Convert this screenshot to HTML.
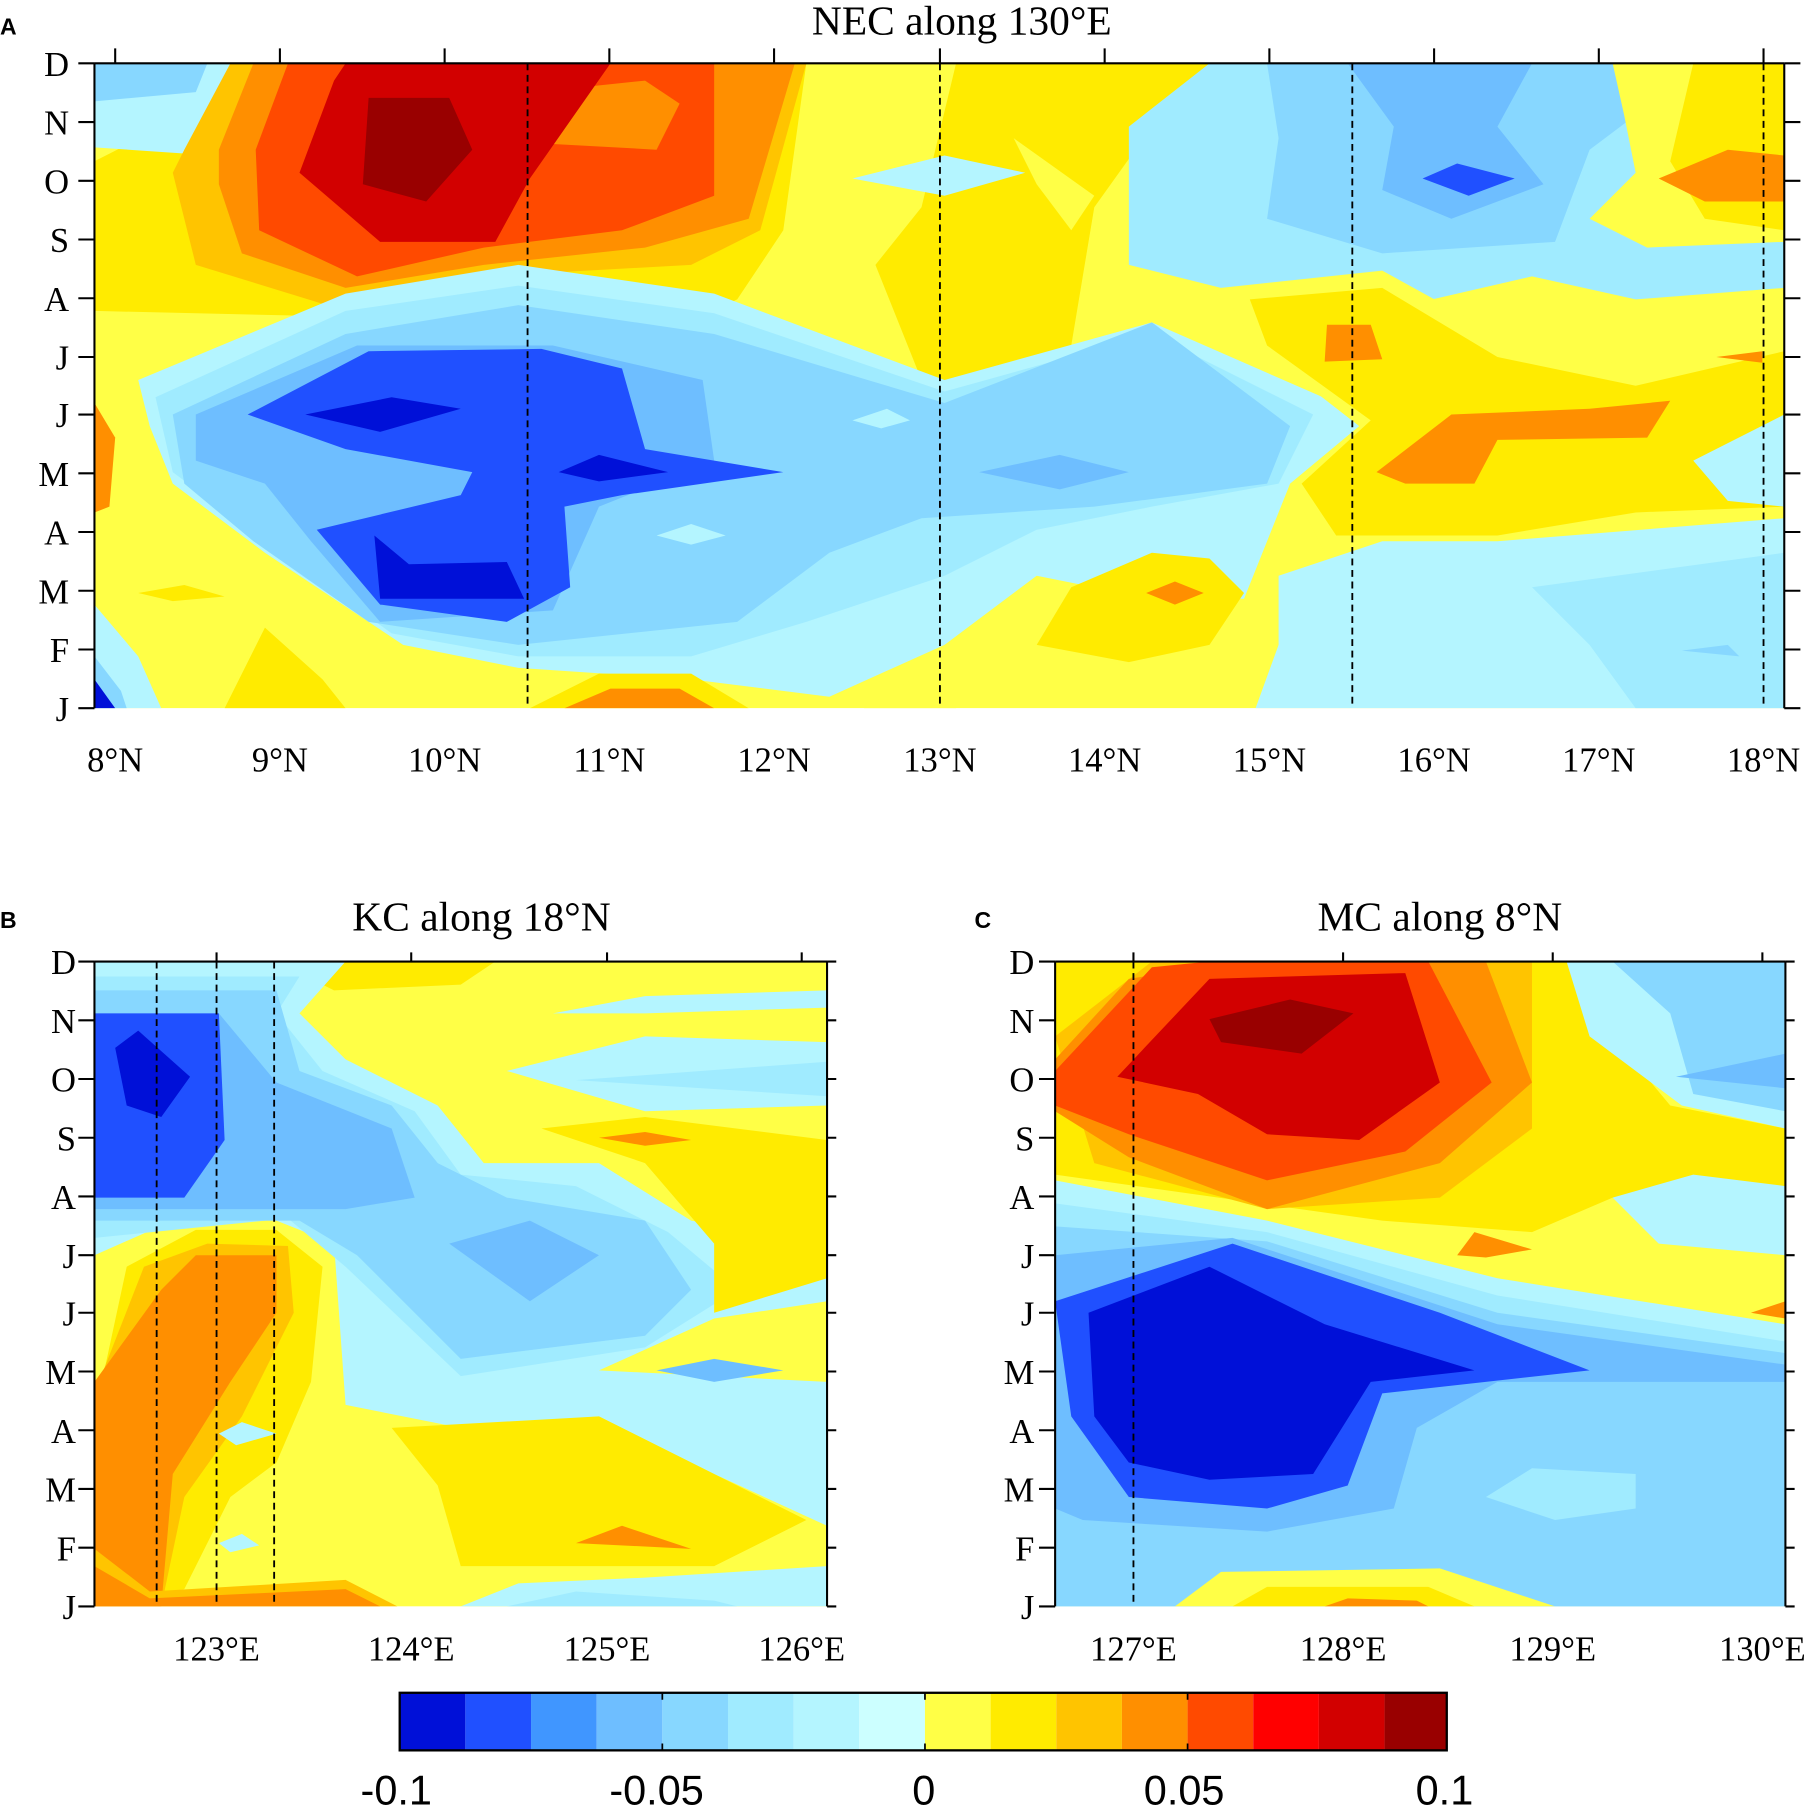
<!DOCTYPE html>
<html><head><meta charset="utf-8"><style>html,body{margin:0;padding:0;background:#fff}svg{display:block}</style></head><body>
<svg width="1805" height="1816" viewBox="0 0 1567 1577" preserveAspectRatio="none" xmlns="http://www.w3.org/2000/svg">
<defs>
<clipPath id="ca"><rect x="82" y="55" width="1467" height="560"/></clipPath>
<clipPath id="cb"><rect x="82" y="835" width="636" height="560"/></clipPath>
<clipPath id="cc"><rect x="916" y="835" width="634" height="560"/></clipPath>
</defs>
<rect width="1567" height="1577" fill="#fff"/>
<!-- Panel A -->
<g clip-path="url(#ca)">
<rect x="82" y="55" width="1467" height="560" fill="#FFFF46"/>
<path fill="#FFEB00" d="M82,140 L250,55 L700,55 L680,200 L640,260 L600,280 L450,250 L300,275 L82,270 Z"/>
<path fill="#FFEB00" d="M830,55 L1050,55 L1000,110 L950,180 L930,300 L880,350 L800,330 L760,230 L800,180 Z"/>
<path fill="#FFFF46" d="M880,120 L950,170 L930,200 L900,160 Z"/>
<path fill="#B4F5FF" d="M82,55 L235,55 L225,95 L185,135 L82,128 Z"/>
<path fill="#87D7FF" d="M82,55 L180,55 L170,80 L82,88 Z"/>
<path fill="#FFC400" d="M160,130 L200,55 L700,55 L660,200 L600,230 L420,240 L300,270 L170,230 L150,150 Z"/>
<path fill="#FF8F00" d="M190,130 L220,55 L690,55 L650,190 L560,215 L420,230 L300,250 L210,220 L190,160 Z"/>
<path fill="#FF4A00" d="M222,130 L250,55 L620,55 L620,170 L540,200 L420,215 L310,240 L225,200 Z"/>
<path fill="#FF8F00" d="M465,80 L560,70 L590,90 L570,130 L480,125 Z"/>
<path fill="#D20000" d="M260,150 L290,70 L300,55 L530,55 L460,155 L430,210 L330,210 Z"/>
<path fill="#990000" d="M320,85 L390,85 L410,130 L370,175 L315,160 Z"/>
<path fill="#B4F5FF" d="M120,330 L300,255 L450,230 L620,255 L820,330 L1000,280 L1160,350 L1190,380 L1120,420 L1100,470 L1080,520 L1000,520 L900,500 L820,560 L720,605 L600,590 L450,580 L350,560 L230,480 L150,420 L130,370 Z"/>
<path fill="#A0EBFF" d="M135,345 L300,270 L450,248 L620,272 L820,340 L1000,290 L1140,360 L1110,420 L1000,440 L900,460 L820,500 L700,540 L600,570 L450,570 L340,550 L230,470 L150,410 Z"/>
<path fill="#87D7FF" d="M150,360 L300,290 L450,265 L620,290 L820,350 L1000,280 L1120,370 L1100,420 L950,440 L800,450 L720,480 L640,540 L450,560 L320,540 L220,470 L160,420 Z"/>
<path fill="#6EBEFF" d="M170,360 L310,300 L480,300 L610,330 L620,400 L520,440 L480,530 L330,540 L270,470 L230,420 L170,400 Z"/>
<path fill="#6EBEFF" d="M850,410 L920,395 L980,410 L920,425 Z"/>
<path fill="#B4F5FF" d="M570,465 L600,455 L630,465 L600,473 Z M740,365 L770,355 L790,365 L765,372 Z"/>
<path fill="#2050FF" d="M215,360 L320,305 L470,303 L540,320 L560,390 L680,410 L540,430 L490,440 L495,510 L440,540 L330,525 L275,460 L400,430 L410,410 L300,390 Z"/>
<path fill="#0010D8" d="M265,360 L340,345 L400,355 L330,375 Z M485,410 L520,395 L580,410 L520,418 Z M325,465 L355,490 L440,488 L455,520 L330,520 Z"/>
<path fill="#B4F5FF" d="M740,155 L820,135 L890,150 L820,170 Z"/>
<path fill="#A0EBFF" d="M1050,55 L1549,55 L1549,250 L1420,260 L1330,240 L1200,270 L1060,250 L980,230 L980,110 Z"/>
<path fill="#87D7FF" d="M1100,55 L1420,55 L1420,100 L1380,130 L1350,210 L1200,220 L1100,190 L1110,120 Z"/>
<path fill="#6EBEFF" d="M1170,55 L1330,55 L1300,110 L1340,160 L1260,190 L1200,165 L1210,110 Z"/>
<path fill="#2050FF" d="M1235,155 L1265,142 L1315,155 L1275,170 Z"/>
<path fill="#FFFF46" d="M1400,55 L1549,55 L1549,210 L1430,215 L1380,190 L1420,150 L1410,100 Z"/>
<path fill="#FFEB00" d="M1470,55 L1549,55 L1549,200 L1480,190 L1450,140 Z"/>
<path fill="#FF8F00" d="M1440,155 L1500,130 L1549,135 L1549,175 L1480,175 Z"/>
<path fill="#FFFF46" d="M1060,250 L1200,235 L1300,290 L1420,320 L1549,290 L1549,450 L1420,460 L1300,480 L1150,480 L1120,420 L1180,370 L1090,300 Z"/>
<path fill="#FFEB00" d="M1085,260 L1200,250 L1300,310 L1420,335 L1549,305 L1549,440 L1420,445 L1300,465 L1160,465 L1130,420 L1190,365 L1100,300 Z"/>
<path fill="#FF8F00" d="M1195,410 L1260,360 L1380,355 L1450,348 L1430,380 L1300,382 L1280,420 L1220,420 Z M1152,282 L1190,282 L1200,312 L1150,314 Z M1490,310 L1530,305 L1530,315 Z"/>
<path fill="#B4F5FF" d="M1470,400 L1549,360 L1549,440 L1500,435 Z"/>
<path fill="#B4F5FF" d="M1110,500 L1200,470 L1300,470 L1549,450 L1549,615 L1090,615 L1110,560 Z"/>
<path fill="#A0EBFF" d="M1330,510 L1549,480 L1549,615 L1420,615 L1380,560 Z"/>
<path fill="#87D7FF" d="M1460,565 L1500,560 L1510,570 Z"/>
<path fill="#FFEB00" d="M900,560 L930,510 L1000,480 L1050,485 L1080,515 L1050,560 L980,575 Z"/>
<path fill="#FF8F00" d="M995,515 L1020,505 L1045,515 L1020,525 Z"/>
<path fill="#B4F5FF" d="M82,525 L120,570 L140,615 L82,615 Z"/>
<path fill="#87D7FF" d="M82,570 L105,600 L110,615 L82,615 Z"/>
<path fill="#0010D8" d="M82,590 L100,615 L82,615 Z"/>
<path fill="#FFEB00" d="M195,615 L230,545 L280,590 L300,615 Z M120,515 L160,508 L195,518 L150,522 Z"/>
<path fill="#FFEB00" d="M460,615 L520,585 L600,585 L650,615 Z"/>
<path fill="#FF8F00" d="M490,615 L530,598 L590,598 L620,615 Z"/>
<path fill="#FF8F00" d="M82,350 L100,380 L95,440 L82,445 Z"/>
<path fill="#FFFF46" d="M750,615 L800,585 L830,600 L830,615 Z"/>
</g>
<!-- Panel B -->
<g clip-path="url(#cb)">
<rect x="82" y="835" width="636" height="560" fill="#FFFF46"/>
<path fill="#FFEB00" d="M240,835 L430,835 L400,855 L290,860 Z"/>
<path fill="#B4F5FF" d="M82,835 L300,835 L260,880 L300,920 L380,960 L420,1010 L520,1010 L600,1060 L718,1080 L718,1130 L620,1145 L520,1190 L718,1200 L718,1325 L620,1280 L520,1230 L400,1240 L300,1220 L290,1080 L240,1060 L150,1060 L82,1090 Z"/>
<path fill="#A0EBFF" d="M82,848 L260,848 L240,880 L280,930 L360,965 L400,1020 L500,1030 L580,1070 L640,1120 L560,1170 L400,1195 L300,1100 L250,1058 L82,1075 Z"/>
<path fill="#87D7FF" d="M82,860 L240,860 L260,930 L340,960 L380,1010 L440,1040 L560,1060 L600,1120 L560,1160 L400,1180 L310,1090 L260,1060 L82,1060 Z"/>
<path fill="#6EBEFF" d="M82,880 L190,880 L240,940 L340,980 L360,1040 L300,1050 L82,1050 Z M390,1080 L460,1060 L520,1090 L460,1130 Z M570,1190 L620,1180 L680,1190 L620,1200 Z"/>
<path fill="#2050FF" d="M82,880 L190,880 L195,990 L160,1040 L82,1040 Z"/>
<path fill="#0010D8" d="M100,910 L120,895 L165,935 L140,970 L110,960 Z"/>
<path fill="#FFEB00" d="M82,1230 L110,1100 L170,1068 L240,1068 L280,1100 L270,1200 L240,1270 L200,1300 L160,1380 L82,1395 Z"/>
<path fill="#FFC400" d="M82,1210 L125,1100 L180,1080 L250,1082 L255,1140 L210,1230 L160,1300 L140,1395 L82,1395 Z"/>
<path fill="#FF8F00" d="M82,1200 L140,1120 L170,1090 L240,1090 L240,1140 L200,1200 L150,1280 L140,1395 L82,1395 Z"/>
<path fill="#B4F5FF" d="M190,1245 L210,1235 L240,1245 L205,1255 Z M190,1340 L210,1332 L225,1342 L200,1348 Z"/>
<path fill="#FFC400" d="M82,1345 L130,1382 L300,1372 L345,1395 L82,1395 Z"/>
<path fill="#FF8F00" d="M82,1360 L130,1388 L300,1380 L330,1395 L82,1395 Z"/>
<path fill="#FFEB00" d="M340,1240 L520,1230 L620,1280 L700,1320 L620,1360 L400,1360 L380,1290 Z"/>
<path fill="#FF8F00" d="M500,1340 L540,1325 L600,1345 Z"/>
<path fill="#FFEB00" d="M470,980 L560,970 L718,990 L718,1110 L620,1140 L620,1080 L560,1010 Z"/>
<path fill="#FF8F00" d="M520,988 L560,983 L600,990 L560,995 Z"/>
<path fill="#B4F5FF" d="M440,930 L560,900 L718,905 L718,960 L560,965 Z M480,880 L560,865 L718,860 L718,875 L560,880 Z"/>
<path fill="#A0EBFF" d="M500,938 L718,922 L718,952 Z"/>
<path fill="#B4F5FF" d="M400,1395 L450,1375 L560,1370 L718,1360 L718,1395 Z"/>
<path fill="#A0EBFF" d="M440,1395 L500,1382 L620,1390 L640,1395 Z"/>
</g>
<!-- Panel C -->
<g clip-path="url(#cc)">
<rect x="916" y="835" width="634" height="560" fill="#FFFF46"/>
<path fill="#FFEB00" d="M916,835 L1390,835 L1400,900 L1450,960 L1550,980 L1550,1030 L1400,1040 L1330,1070 L1200,1060 L916,1020 Z"/>
<path fill="#FFC400" d="M916,900 L1000,835 L1330,835 L1330,980 L1250,1040 L1100,1050 L950,1010 Z"/>
<path fill="#FF8F00" d="M916,920 L980,850 L1080,835 L1290,835 L1330,940 L1250,1010 L1100,1050 L980,1005 L916,965 Z"/>
<path fill="#FF4A00" d="M916,930 L1000,840 L1050,835 L1240,835 L1295,940 L1220,1000 L1100,1025 L980,985 L916,960 Z"/>
<path fill="#D20000" d="M970,935 L1050,850 L1220,845 L1250,940 L1180,990 L1100,985 L1040,950 Z"/>
<path fill="#990000" d="M1050,885 L1120,868 L1175,880 L1130,915 L1060,905 Z"/>
<path fill="#FF8F00" d="M1265,1090 L1280,1070 L1330,1085 L1290,1092 Z M1520,1140 L1550,1130 L1550,1145 Z"/>
<path fill="#B4F5FF" d="M1360,835 L1550,835 L1550,980 L1460,960 L1380,900 Z M1400,1040 L1470,1020 L1550,1030 L1550,1090 L1440,1080 Z"/>
<path fill="#87D7FF" d="M1400,835 L1550,835 L1550,965 L1470,950 L1450,880 Z"/>
<path fill="#6EBEFF" d="M1455,935 L1550,915 L1550,945 Z"/>
<path fill="#B4F5FF" d="M916,1025 L1100,1060 L1300,1110 L1550,1150 L1550,1395 L916,1395 Z"/>
<path fill="#A0EBFF" d="M916,1045 L1100,1070 L1300,1125 L1550,1165 L1550,1395 L916,1395 Z"/>
<path fill="#87D7FF" d="M916,1065 L1100,1078 L1300,1140 L1550,1175 L1550,1395 L916,1395 Z"/>
<path fill="#6EBEFF" d="M916,1090 L1070,1075 L1300,1150 L1550,1185 L1550,1200 L1300,1200 L1230,1240 L1210,1310 L1100,1330 L940,1320 L916,1310 Z"/>
<path fill="#A0EBFF" d="M1290,1300 L1330,1275 L1420,1280 L1420,1310 L1350,1320 Z"/>
<path fill="#2050FF" d="M916,1130 L1070,1080 L1250,1140 L1380,1190 L1200,1210 L1170,1290 L1100,1310 L980,1300 L930,1230 Z"/>
<path fill="#0010D8" d="M945,1140 L1050,1100 L1150,1150 L1280,1190 L1190,1200 L1140,1280 L1050,1285 L980,1270 L950,1230 Z"/>
<path fill="#FFFF46" d="M1020,1395 L1060,1365 L1250,1362 L1350,1395 Z"/>
<path fill="#FFEB00" d="M1070,1395 L1100,1378 L1240,1378 L1280,1395 Z"/>
<path fill="#FF8F00" d="M1150,1395 L1170,1388 L1230,1390 L1240,1395 Z"/>
</g>
<!-- dashed lines -->
<g stroke="#000" stroke-width="1.6" stroke-dasharray="6,4" fill="none">
<line x1="458" y1="55" x2="458" y2="615"/><line x1="816" y1="55" x2="816" y2="615"/>
<line x1="1174" y1="55" x2="1174" y2="615"/><line x1="1531" y1="55" x2="1531" y2="615"/>
<line x1="136" y1="835" x2="136" y2="1395"/><line x1="188" y1="835" x2="188" y2="1395"/><line x1="238" y1="835" x2="238" y2="1395"/>
<line x1="984" y1="835" x2="984" y2="1395"/>
</g>
<g stroke="#000" stroke-width="1.8" fill="none">
<line x1="82" y1="55" x2="1549" y2="55"/><line x1="82" y1="55" x2="82" y2="615"/>
<line x1="1549" y1="55" x2="1549" y2="615"/>
<line x1="82" y1="835" x2="718" y2="835"/><line x1="82" y1="835" x2="82" y2="1395"/><line x1="718" y1="835" x2="718" y2="1395"/>
<line x1="916" y1="835" x2="1550" y2="835"/><line x1="916" y1="835" x2="916" y2="1395"/><line x1="1550" y1="835" x2="1550" y2="1395"/>
<path d="M100,55v-13M243,55v-13M386,55v-13M529,55v-13M672,55v-13M816,55v-13M959,55v-13M1102,55v-13M1245,55v-13M1388,55v-13M1531,55v-13"/>
<path d="M68,55h14M68,106h14M68,157h14M68,208h14M68,259h14M68,310h14M68,360h14M68,411h14M68,462h14M68,513h14M68,564h14M68,615h14"/>
<path d="M1549,55h14M1549,106h14M1549,157h14M1549,208h14M1549,259h14M1549,310h14M1549,360h14M1549,411h14M1549,462h14M1549,513h14M1549,564h14M1549,615h14"/>
<path d="M188,835v-8M357,835v-8M527,835v-8M696,835v-8"/>
<path d="M68,835h14M68,886h14M68,937h14M68,988h14M68,1039h14M68,1090h14M68,1140h14M68,1191h14M68,1242h14M68,1293h14M68,1344h14M68,1395h14"/>
<path d="M718,835h8M718,886h8M718,937h8M718,988h8M718,1039h8M718,1090h8M718,1140h8M718,1191h8M718,1242h8M718,1293h8M718,1344h8M718,1395h8"/>
<path d="M984,835v-8M1166,835v-8M1348,835v-8M1530,835v-8"/>
<path d="M902,835h14M902,886h14M902,937h14M902,988h14M902,1039h14M902,1090h14M902,1140h14M902,1191h14M902,1242h14M902,1293h14M902,1344h14M902,1395h14"/>
<path d="M1550,835h8M1550,886h8M1550,937h8M1550,988h8M1550,1039h8M1550,1090h8M1550,1140h8M1550,1191h8M1550,1242h8M1550,1293h8M1550,1344h8M1550,1395h8"/>
</g>
<g font-family="Liberation Serif, serif" font-size="30" fill="#000">
<text x="835" y="30" text-anchor="middle" font-size="36">NEC along 130°E</text>
<text x="418" y="808" text-anchor="middle" font-size="36">KC along 18°N</text>
<text x="1250" y="808" text-anchor="middle" font-size="36">MC along 8°N</text>
<g text-anchor="middle">
<text x="100" y="670">8°N</text><text x="243" y="670">9°N</text><text x="386" y="670">10°N</text><text x="529" y="670">11°N</text><text x="672" y="670">12°N</text><text x="816" y="670">13°N</text><text x="959" y="670">14°N</text><text x="1102" y="670">15°N</text><text x="1245" y="670">16°N</text><text x="1388" y="670">17°N</text><text x="1531" y="670">18°N</text>
<text x="188" y="1442">123°E</text><text x="357" y="1442">124°E</text><text x="527" y="1442">125°E</text><text x="696" y="1442">126°E</text>
<text x="984" y="1442">127°E</text><text x="1166" y="1442">128°E</text><text x="1348" y="1442">129°E</text><text x="1530" y="1442">130°E</text>
</g>
<g text-anchor="end">
<text x="60" y="66">D</text><text x="60" y="117">N</text><text x="60" y="168">O</text><text x="60" y="219">S</text><text x="60" y="270">A</text><text x="60" y="321">J</text><text x="60" y="371">J</text><text x="60" y="422">M</text><text x="60" y="473">A</text><text x="60" y="524">M</text><text x="60" y="575">F</text><text x="60" y="626">J</text>
<text x="66" y="846">D</text><text x="66" y="897">N</text><text x="66" y="948">O</text><text x="66" y="999">S</text><text x="66" y="1050">A</text><text x="66" y="1101">J</text><text x="66" y="1151">J</text><text x="66" y="1202">M</text><text x="66" y="1253">A</text><text x="66" y="1304">M</text><text x="66" y="1355">F</text><text x="66" y="1406">J</text>
<text x="898" y="846">D</text><text x="898" y="897">N</text><text x="898" y="948">O</text><text x="898" y="999">S</text><text x="898" y="1050">A</text><text x="898" y="1101">J</text><text x="898" y="1151">J</text><text x="898" y="1202">M</text><text x="898" y="1253">A</text><text x="898" y="1304">M</text><text x="898" y="1355">F</text><text x="898" y="1406">J</text>
</g>
</g>
<g font-family="Liberation Sans, sans-serif" font-weight="bold" font-size="20">
<text x="0" y="30">A</text><text x="0" y="806">B</text><text x="846" y="806">C</text>
</g>
<g>
<rect x="347" y="1470" width="57" height="50" fill="#0010D8"/>
<rect x="404" y="1470" width="57" height="50" fill="#2050FF"/>
<rect x="461" y="1470" width="57" height="50" fill="#4096FF"/>
<rect x="518" y="1470" width="57" height="50" fill="#6EBEFF"/>
<rect x="575" y="1470" width="57" height="50" fill="#87D7FF"/>
<rect x="632" y="1470" width="57" height="50" fill="#A0EBFF"/>
<rect x="689" y="1470" width="57" height="50" fill="#B4F5FF"/>
<rect x="746" y="1470" width="57" height="50" fill="#CCFFFF"/>
<rect x="803" y="1470" width="57" height="50" fill="#FFFF46"/>
<rect x="860" y="1470" width="57" height="50" fill="#FFEB00"/>
<rect x="917" y="1470" width="57" height="50" fill="#FFC400"/>
<rect x="974" y="1470" width="57" height="50" fill="#FF8F00"/>
<rect x="1031" y="1470" width="57" height="50" fill="#FF4A00"/>
<rect x="1088" y="1470" width="57" height="50" fill="#FF0000"/>
<rect x="1145" y="1470" width="57" height="50" fill="#D20000"/>
<rect x="1202" y="1470" width="54" height="50" fill="#990000"/>
<rect x="347" y="1470" width="909" height="50" fill="none" stroke="#000" stroke-width="2"/>
<path d="M575,1470v6M575,1520v-6M803,1470v6M803,1520v-6M1031,1470v6M1031,1520v-6" stroke="#000" stroke-width="1.5"/>
<g font-family="Liberation Sans, sans-serif" font-size="36" text-anchor="middle">
<text x="344" y="1567">-0.1</text><text x="570" y="1567">-0.05</text><text x="802" y="1567">0</text><text x="1028" y="1567">0.05</text><text x="1254" y="1567">0.1</text>
</g>
</g>
</svg>
</body></html>
